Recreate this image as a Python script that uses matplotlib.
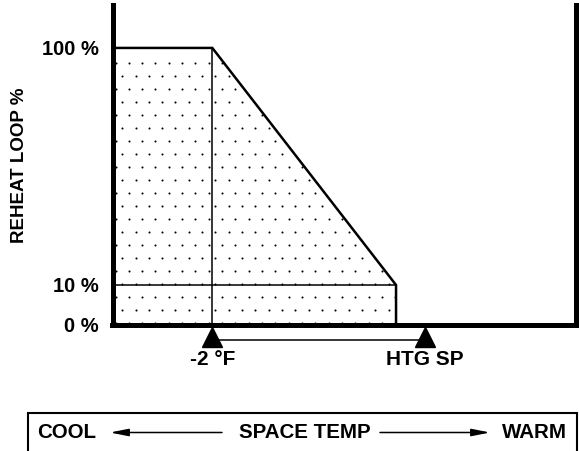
import numpy as np
import matplotlib.pyplot as plt
from matplotlib.patches import Rectangle, FancyArrowPatch
from matplotlib.transforms import blended_transform_factory

plt.rcParams["font.family"] = ["Liberation Sans", "DejaVu Sans"]
plt.rcParams["font.weight"] = "bold"

# space temperature relative to the heating setpoint (°F)
x_min, x_max = -2.94, 1.42
ramp_x = [x_min, -2.0, -0.27, -0.27]
ramp_y = [100, 100, 10, 0]
marker_x = [-2.0, 0.0]
marker_labels = ["-2 °F", "HTG SP"]
y_ticks = [0, 10, 100]
y_tick_labels = ["0 %", "10 %", "100 %"]


# schematic y scale: the 0-10 % band is drawn stretched
def fwd(y):
    y = np.asarray(y, dtype=float)
    return np.where(y < 10, 1.5 * y, y + 5)


def inv(v):
    v = np.asarray(v, dtype=float)
    return np.where(v < 15, v / 1.5, v - 5)


fig = plt.figure(figsize=(5.79, 4.51), dpi=100)
ax = fig.add_axes([112.5 / 579, 126.5 / 451, 463 / 579, 319.5 / 451])
ax.set_yscale("function", functions=(fwd, inv))
ax.set_xlim(x_min, x_max)
ax.set_ylim(0, 116.3)

# dotted area under the reheat curve
poly = ax.fill(ramp_x + [x_min], ramp_y + [0], facecolor="white", edgecolor="none", zorder=1)[0]
dots_x, dots_y = [], []
for r in range(22):
    cols = np.arange(0, 36) * 13.33 + 115.5 + (6.67 if r % 2 else 0)
    dots_x.extend((cols - 112.5) / 463)
    dots_y.extend([(324.5 - (63.3 + 13.0 * r)) / 319.5] * len(cols))
sc = ax.scatter(dots_x, dots_y, s=2.2, c="black", linewidths=0, transform=ax.transAxes, zorder=2)
sc.set_clip_path(poly)

ax.plot(ramp_x, ramp_y, color="black", lw=1.8, solid_joinstyle="miter", zorder=3)
ax.plot([marker_x[0], marker_x[0]], [100, 0], color="black", lw=1.1, zorder=3)
ax.plot([x_min, ramp_x[-1]], [10, 10], color="black", lw=1.1, zorder=3)

for name in ["left", "bottom", "right"]:
    ax.spines[name].set_linewidth(3.6)
ax.spines["top"].set_visible(False)
ax.set_xticks([])
ax.set_yticks(y_ticks, y_tick_labels, fontsize=14.5, fontweight="bold")
ax.tick_params(axis="y", length=0, pad=10)

# setpoint markers below the axis
bt = blended_transform_factory(ax.transData, ax.transAxes)
ax.plot(marker_x, [-0.047, -0.047], color="black", lw=1.1, transform=bt, clip_on=False)
ax.plot(marker_x, [-0.039, -0.039], ls="none", marker="^", ms=14, color="black",
        transform=bt, clip_on=False)
for x, lab in zip(marker_x, marker_labels):
    ax.text(x, -0.108, lab, transform=bt, ha="center", va="center", fontsize=15, fontweight="bold")

fig.text(20 / 579, 1 - 165 / 451, "REHEAT LOOP %", rotation=90, ha="center", va="center",
         fontsize=13.5, fontweight="bold")

# space temp legend box
fig.add_artist(Rectangle((28 / 579, -0.05), (577 - 28) / 579, (451 - 413) / 451 + 0.05,
                         transform=fig.transFigure, fill=False, lw=1.5, ec="black"))
yb = 1 - 432.5 / 451
fig.text(37 / 579, yb, "COOL", ha="left", va="center", fontsize=14.8, fontweight="bold")
fig.text(305 / 579, yb, "SPACE TEMP", ha="center", va="center", fontsize=14.8, fontweight="bold")
fig.text(567 / 579, yb, "WARM", ha="right", va="center", fontsize=14.8, fontweight="bold")
for x0, x1 in [(222, 110), (380, 490)]:
    fig.add_artist(FancyArrowPatch((x0 / 579, yb), (x1 / 579, yb), transform=fig.transFigure,
                                   arrowstyle="-|>,head_length=11,head_width=2.2",
                                   shrinkA=0, shrinkB=0, lw=1.1, color="black"))

fig.savefig("out.png", dpi=100)
